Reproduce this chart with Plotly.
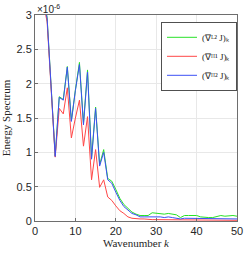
import plotly.graph_objects as go

k = list(range(1, 51))

# values in units of 1e-6
l2 = [3.8, 3.3, 2.96, 1.96, 0.95, 1.81, 1.77, 2.25, 1.46, 1.91,
      2.31, 1.42, 2.20, 0.92, 1.66, 0.82, 1.04, 0.62, 0.58, 0.46,
      0.33, 0.24, 0.19, 0.13, 0.10, 0.08, 0.08, 0.08, 0.12, 0.11,
      0.10, 0.10, 0.11, 0.10, 0.09, 0.05, 0.08, 0.08, 0.08, 0.08,
      0.06, 0.05, 0.05, 0.05, 0.06, 0.08, 0.07, 0.08, 0.08, 0.07]
h1 = [3.6, 3.2, 2.90, 1.90, 0.93, 1.64, 1.56, 1.94, 1.21, 1.50,
      1.76, 1.09, 1.52, 0.60, 1.04, 0.49, 0.60, 0.35, 0.30, 0.22,
      0.15, 0.11, 0.06, 0.04, 0.03, 0.03, 0.03, 0.02, 0.02, 0.02,
      0.02, 0.02, 0.02, 0.02, 0.02, 0.02, 0.02, 0.02, 0.02, 0.02,
      0.02, 0.02, 0.01, 0.01, 0.02, 0.02, 0.01, 0.01, 0.01, 0.01]
h2 = [3.8, 3.3, 2.95, 1.95, 0.94, 1.80, 1.76, 2.24, 1.45, 1.90,
      2.28, 1.40, 2.17, 0.90, 1.64, 0.80, 1.00, 0.60, 0.55, 0.42,
      0.30, 0.21, 0.16, 0.11, 0.09, 0.06, 0.06, 0.06, 0.07, 0.06,
      0.06, 0.05, 0.06, 0.05, 0.04, 0.03, 0.04, 0.04, 0.04, 0.04,
      0.03, 0.03, 0.03, 0.03, 0.03, 0.04, 0.03, 0.03, 0.03, 0.03]

names = ["(∇ᴸ² J)ₖ", "(∇ᴴ¹ J)ₖ", "(∇ᴴ² J)ₖ"]
colors = ["rgb(40,225,40)", "rgb(255,70,70)", "rgb(60,80,245)"]

fig = go.Figure()
for y, n, c in zip([l2, h1, h2], names, colors):
    fig.add_trace(go.Scatter(x=k, y=y, mode="lines", name=n,
                             line=dict(color=c, width=1)))

axis_common = dict(showline=True, mirror=True, linecolor="rgb(110,110,110)",
                   linewidth=1, showgrid=True, gridcolor="rgb(232,232,232)",
                   ticks="inside", ticklen=3, tickcolor="rgb(110,110,110)",
                   zeroline=False,
                   tickfont=dict(family="Liberation Sans", size=11, color="rgb(38,38,38)"))

fig.update_layout(
    width=249, height=253,
    margin=dict(l=33, r=6, t=15, b=28),
    plot_bgcolor="white", paper_bgcolor="white",
    xaxis=dict(range=[0, 50], tickvals=[0, 10, 20, 30, 40, 50],
               title=dict(text="Wavenumber <i>k</i>", standoff=2,
                          font=dict(family="Liberation Serif", size=11, color="rgb(38,38,38)")),
               **axis_common),
    yaxis=dict(range=[0, 3], tickvals=[0, 0.5, 1, 1.5, 2, 2.5, 3],
               ticktext=["0", "0.5", "1", "1.5", "2", "2.5", "3"],
               title=dict(text="Energy Spectrum", standoff=3,
                          font=dict(family="Liberation Serif", size=11, color="rgb(38,38,38)")),
               **axis_common),
    legend=dict(x=1.0, y=0.967, xanchor="right", yanchor="top",
                bgcolor="white", bordercolor="rgb(80,80,80)", borderwidth=1,
                font=dict(family="Liberation Serif", size=9, color="rgb(38,38,38)"),
                itemwidth=30, tracegroupgap=0),
    showlegend=True,
)

fig.add_annotation(x=0, y=1, xref="paper", yref="paper", xanchor="left", yanchor="bottom",
                   text="×10<sup>-6</sup>", showarrow=False, yshift=-2,
                   font=dict(family="Liberation Sans", size=10, color="rgb(38,38,38)"))

fig.write_html("out.html", config={"displayModeBar": False},
               post_script="document.body.style.margin='0';document.body.style.overflow='hidden';")
